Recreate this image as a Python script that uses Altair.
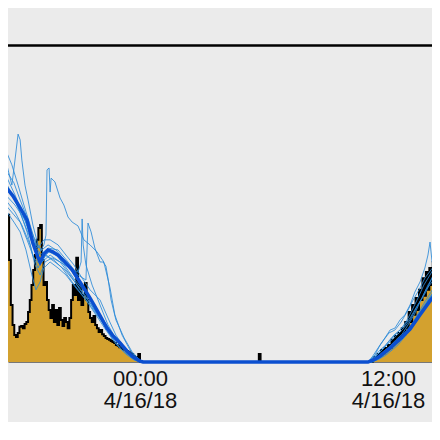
import altair as alt
import pandas as pd

DAY = pd.Timestamp("2018-04-16 00:00")

# ---- observed irradiance (W/m^2), 5-minute steps ----
obs_evening_start = "2018-04-15 17:35"
obs_evening = [465, 322, 180, 117, 85, 79, 92, 111, 114, 107,
               120, 126, 158, 196, 243, 291, 338, 386, 423, 433,
               322, 243, 253, 196, 164, 139, 180, 126, 164, 117,
               171, 133, 114, 139, 126, 107, 139, 196, 243, 212,
               329, 196, 243, 180, 212, 250, 196, 158, 139, 126,
               145, 117, 107, 95, 101, 88, 82, 76, 73, 70,
               66, 63, 60, 54, 51, 47, 44, 41, 38, 35,
               32, 28, 25, 19, 16, 13, 25, 0]
obs_night_times = ["2018-04-16 05:40", "2018-04-16 05:45", "2018-04-16 05:50"]
obs_night = [0, 25, 0]
obs_morning_start = "2018-04-16 11:05"
obs_morning = [0, 0, 6, 16, 13, 25, 19, 38, 28, 44,
               38, 54, 44, 70, 57, 82, 66, 92, 76, 107,
               88, 126, 107, 158, 126, 180, 149, 202, 164, 228,
               196, 265, 209, 284, 228, 297, 243, 316, 265, 354,
               307, 360, 330]

# ---- ensemble members: minutes from 4/16 00:00, values ----
e1_t = [-390, -372, -363, -354, -348, -343, -334, -325, -311, -296, -276, -247, -218, -189, -160, -131, -102, -73, -44, -15, 6]
e1_v = [638, 559, 638, 720, 702, 638, 559, 512, 433, 370, 338, 316, 291, 253, 212, 164, 117, 76, 38, 13, 0]
e2_t = [-390, -363, -343, -319, -296, -279, -273, -270, -264, -261, -258, -247, -232, -221, -209, -197, -180, -163, -145, -125, -105, -87, -73, -52, -29, -6, 9]
e2_v = [591, 528, 474, 401, 338, 370, 401, 607, 613, 537, 581, 569, 518, 496, 458, 442, 430, 386, 370, 348, 316, 234, 149, 85, 38, 6, 0]
e3_t = [-390, -363, -334, -305, -285, -261, -232, -203, -180, -171, -168, -165, -157, -139, -116, -93, -64, -35, -9, 9]
e3_v = [569, 512, 433, 354, 316, 338, 316, 297, 284, 316, 452, 370, 307, 243, 180, 117, 63, 28, 6, 0]
e4_t = [-390, -363, -334, -311, -290, -267, -238, -209, -180, -157, -151, -142, -131, -116, -107, -99, -93, -84, -70, -46, -23, 0, 15]
e4_v = [528, 496, 449, 386, 338, 360, 354, 316, 275, 259, 439, 411, 360, 316, 316, 303, 265, 196, 133, 76, 32, 6, 0]
e5_t = [-390, -372, -354, -337, -319, -302, -285, -267, -244, -215, -186, -157, -128, -99, -70, -41, -12, 6]
e5_v = [670, 623, 559, 496, 433, 370, 354, 370, 354, 316, 265, 221, 171, 117, 70, 32, 6, 0]
e6_t = [-390, -363, -343, -319, -305, -290, -276, -255, -232, -203, -174, -145, -116, -87, -58, -29, -6, 6]
e6_v = [512, 474, 433, 370, 307, 275, 316, 329, 316, 275, 228, 186, 139, 95, 54, 22, 3, 0]
e7_t = [-390, -366, -348, -331, -314, -302, -290, -279, -261, -238, -215, -186, -157, -128, -99, -70, -41, -17, 0]
e7_v = [480, 442, 411, 354, 275, 228, 253, 297, 316, 297, 275, 234, 196, 149, 101, 57, 25, 6, 0]
e8_t = [-390, -366, -348, -328, -311, -296, -282, -264, -241, -218, -189, -160, -131, -102, -73, -44, -20, 0]
e8_v = [550, 518, 474, 411, 338, 297, 329, 348, 335, 303, 259, 221, 177, 126, 79, 38, 13, 0]
e9_t = [-390, -366, -348, -331, -314, -296, -279, -261, -238, -215, -192, -168, -145, -116, -93, -70, -46, -23, 0]
e9_v = [607, 566, 512, 465, 411, 360, 386, 386, 370, 338, 307, 265, 228, 196, 139, 85, 47, 19, 0]
e10_t = [-390, -366, -348, -328, -308, -290, -273, -250, -226, -197, -168, -139, -110, -81, -52, -23, 0]
e10_v = [496, 465, 442, 386, 329, 307, 338, 322, 297, 253, 212, 171, 126, 76, 38, 13, 0]

m1_t = [662, 682, 697, 711, 726, 740, 755, 769, 784, 798, 813, 827, 836, 842, 848, 859, 871, 885]
m1_v = [0, 22, 54, 76, 101, 107, 133, 149, 180, 221, 253, 297, 338, 379, 316, 291, 316, 330]
m2_t = [668, 685, 703, 720, 737, 755, 772, 790, 807, 824, 842, 859, 871, 885]
m2_v = [0, 19, 38, 63, 85, 101, 126, 164, 202, 243, 275, 307, 329, 350]
m3_t = [673, 691, 708, 726, 743, 761, 778, 796, 813, 830, 848, 862, 871, 885]
m3_v = [0, 13, 32, 51, 70, 88, 117, 149, 190, 228, 253, 284, 291, 310]
m4_t = [665, 679, 697, 714, 732, 749, 766, 784, 801, 819, 836, 854, 871, 885]
m4_v = [0, 16, 38, 54, 76, 95, 114, 139, 171, 202, 243, 275, 297, 320]
m5_t = [671, 688, 705, 723, 740, 758, 775, 793, 810, 827, 845, 862, 871, 885]
m5_v = [0, 16, 32, 47, 63, 79, 101, 126, 158, 190, 221, 253, 265, 285]
m6_t = [668, 685, 703, 720, 737, 755, 772, 790, 807, 824, 842, 859, 871, 885]
m6_v = [0, 13, 25, 38, 54, 70, 85, 107, 139, 171, 202, 228, 243, 260]
m7_t = [662, 676, 691, 708, 723, 740, 758, 775, 793, 810, 827, 845, 862, 871, 885]
m7_v = [0, 19, 44, 70, 92, 101, 126, 158, 196, 228, 265, 291, 316, 338, 350]
m8_t = [673, 694, 714, 732, 749, 766, 784, 801, 819, 836, 854, 871, 885]
m8_v = [0, 9, 22, 38, 54, 76, 101, 133, 164, 196, 221, 243, 265]
m9_t = [668, 691, 714, 737, 761, 784, 807, 830, 851, 871, 885]
m9_v = [0, 25, 51, 76, 101, 133, 180, 221, 275, 307, 330]
m10_t = [676, 697, 720, 743, 766, 790, 813, 836, 859, 871, 885]
m10_v = [0, 13, 32, 54, 82, 117, 158, 196, 234, 253, 270]

# ---- ensemble mean ----
mean_t = [-390, -369, -348, -328, -311, -296, -290, -279, -267, -253, -238, -218, -197, -165, -145, -125, -96, -78, -58, -38, -20, 0, 9,
          662, 682, 697, 726, 755, 784, 813, 842, 871, 885]
mean_v = [553, 525, 487, 449, 376, 329, 316, 341, 354, 348, 338, 316, 291, 237, 202, 164, 107, 82, 60, 35, 16, 3, 0,
          0, 9, 19, 44, 73, 104, 149, 193, 231, 245]

limit_value = [1000]

# ---- tables ----
obs_times = (list(pd.date_range(obs_evening_start, periods=len(obs_evening), freq="5min"))
             + [pd.Timestamp(t) for t in obs_night_times]
             + list(pd.date_range(obs_morning_start, periods=len(obs_morning), freq="5min")))
obs = pd.DataFrame({"time": obs_times, "value": obs_evening + obs_night + obs_morning})

members = [
    (e1_t + m1_t, e1_v + m1_v), (e2_t + m2_t, e2_v + m2_v), (e3_t + m3_t, e3_v + m3_v),
    (e4_t + m4_t, e4_v + m4_v), (e5_t + m5_t, e5_v + m5_v), (e6_t + m6_t, e6_v + m6_v),
    (e7_t + m7_t, e7_v + m7_v), (e8_t + m8_t, e8_v + m8_v), (e9_t + m9_t, e9_v + m9_v),
    (e10_t + m10_t, e10_v + m10_v),
]
rows = []
for i, (ts, vs) in enumerate(members):
    for t, v in zip(ts, vs):
        rows.append({"member": f"m{i + 1}", "time": DAY + pd.Timedelta(minutes=t), "value": v})
ens = pd.DataFrame(rows)
mean = pd.DataFrame({"time": [DAY + pd.Timedelta(minutes=t) for t in mean_t], "value": mean_v})
limit = pd.DataFrame({"value": limit_value})

# ---- scales / axes ----
x_scale = alt.Scale(domain=[
    alt.DateTime(year=2018, month=4, date=15, hours=17, minutes=36, seconds=46),
    alt.DateTime(year=2018, month=4, date=16, hours=14, minutes=7, seconds=44),
])
y_scale = alt.Scale(domain=[0, 1118.5], nice=False, zero=True)
x_axis = alt.Axis(
    values=[alt.DateTime(year=2018, month=4, date=16, hours=0),
            alt.DateTime(year=2018, month=4, date=16, hours=12)],
    labelExpr="[timeFormat(datum.value, '%H:%M'), timeFormat(datum.value, '%-m/%-d/%y')]",
    ticks=False, grid=False, domainColor="#777777", domainWidth=1,
    labelFont="Liberation Sans", labelFontSize=22, labelColor="#111111",
    labelPadding=6, labelLineHeight=22, labelOverlap=False, title=None,
)


def X():
    return alt.X("time:T", scale=x_scale, axis=x_axis)


def Y():
    return alt.Y("value:Q", scale=y_scale, axis=None)


area = alt.Chart(obs).mark_area(interpolate="step-after", color="#d3a12f").encode(x=X(), y=Y())
obs_line = alt.Chart(obs).mark_line(interpolate="step-after", color="#000000", strokeWidth=2).encode(x=X(), y=Y())
ens_lines = alt.Chart(ens).mark_line(color="#2a8ad8", strokeWidth=1, opacity=0.85).encode(
    x=X(), y=Y(), detail="member:N")
mean_line = alt.Chart(mean).mark_line(color="#0b4fd0", strokeWidth=3.5).encode(x=X(), y=Y())
rule = alt.Chart(limit).mark_rule(color="#000000", strokeWidth=2.5).encode(y=Y())

chart = alt.layer(area, obs_line, ens_lines, mean_line, rule).properties(
    width=424, height=354,
    padding={"left": 0, "top": 0, "right": 0, "bottom": 60},
    autosize=alt.AutoSizeParams(type="none"),
    background="#ebebeb",
).configure_view(fill="#ebebeb", strokeWidth=0)

chart.save("out.html", embed_options={"renderer": "svg", "actions": False})
